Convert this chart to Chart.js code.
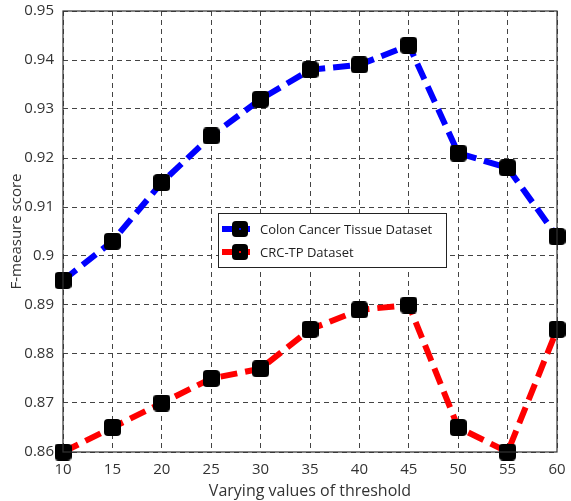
<!DOCTYPE html>
<html>
<head>
<meta charset="utf-8">
<script src="https://cdn.jsdelivr.net/npm/chart.js@4"></script>
<style>
  html, body { margin: 0; padding: 0; background: #fff; }
  #wrap { width: 571px; height: 501px; position: relative; }
</style>
</head>
<body>
<div id="wrap"><canvas id="chart" width="571" height="501"></canvas></div>
<script>
// thresholds on the x axis
const thresholds = [10, 15, 20, 25, 30, 35, 40, 45, 50, 55, 60];
// F-measure per dataset
const colonScores = [0.895, 0.903, 0.915, 0.9245, 0.932, 0.938, 0.939, 0.943, 0.921, 0.918, 0.904];
const crcScores = [0.860, 0.865, 0.870, 0.875, 0.877, 0.885, 0.889, 0.890, 0.865, 0.860, 0.885];
const seriesNames = ['Colon Cancer Tissue Dataset', 'CRC-TP Dataset'];
const seriesColors = ['#0000ff', '#ff0000'];

const FONT = '"Open Sans", "Liberation Sans", sans-serif';

// black rounded square marker
function makeMarker() {
    const c = document.createElement('canvas');
    c.width = 17;
    c.height = 17;
    const g = c.getContext('2d');
    g.fillStyle = '#000';
    g.beginPath();
    g.roundRect(0, 0, 17, 17, 4);
    g.fill();
    return c;
}
const marker = makeMarker();

function toPoints(vals) {
    return thresholds.map((t, i) => ({ x: t, y: vals[i] }));
}

function lineSet(label, vals, color) {
    return {
        label,
        data: toPoints(vals),
        borderColor: color,
        borderWidth: 6,
        borderDash: [17, 8],
        pointStyle: marker,
        pointRadius: 8,
        tension: 0,
        clip: false,
    };
}

// tiny coloured dot in the middle of each marker
function dotSet(vals, color) {
    return {
        label: '',
        data: toPoints(vals),
        showLine: false,
        pointStyle: 'circle',
        pointRadius: 1,
        pointBackgroundColor: color,
        pointBorderWidth: 0,
        clip: false,
    };
}

// box round the plot + legend inside the plot
const framePlugin = {
    id: 'frame',
    afterDraw(chart) {
        const { ctx, chartArea: a } = chart;
        ctx.save();
        ctx.strokeStyle = '#333';
        ctx.lineWidth = 1.2;
        ctx.setLineDash([]);
        ctx.strokeRect(a.left, a.top, a.right - a.left, a.bottom - a.top);

        // legend
        const lx = 218, ly = 213, lw = 228, lh = 54;
        ctx.fillStyle = '#fff';
        ctx.fillRect(lx, ly, lw, lh);
        ctx.strokeStyle = '#222';
        ctx.lineWidth = 1;
        ctx.strokeRect(lx + 0.5, ly + 0.5, lw, lh);
        seriesNames.forEach((name, i) => {
            const y = ly + 16 + i * 23;
            ctx.strokeStyle = seriesColors[i];
            ctx.lineWidth = 6;
            ctx.beginPath();
            ctx.moveTo(lx + 4, y);
            ctx.lineTo(lx + 32, y);
            ctx.stroke();
            ctx.drawImage(marker, lx + 14, y - 8, 16, 16);
            ctx.fillStyle = seriesColors[i];
            ctx.fillRect(lx + 21, y - 1, 2, 2);
            ctx.fillStyle = '#222';
            ctx.font = '13px ' + FONT;
            ctx.textBaseline = 'middle';
            ctx.fillText(name, lx + 42, y + 1);
        });
        ctx.restore();
    }
};

new Chart(document.getElementById('chart'), {
    type: 'line',
    data: {
        datasets: [
            lineSet(seriesNames[0], colonScores, seriesColors[0]),
            lineSet(seriesNames[1], crcScores, seriesColors[1]),
            dotSet(colonScores, seriesColors[0]),
            dotSet(crcScores, seriesColors[1]),
        ]
    },
    options: {
        responsive: false,
        animation: false,
        layout: { autoPadding: false, padding: { top: 11, right: 14, left: 8, bottom: 0 } },
        plugins: {
            legend: { display: false },
            tooltip: { enabled: false },
        },
        scales: {
            x: {
                type: 'linear',
                min: 10,
                max: 60,
                afterFit: (s) => {
                    s.height = 49;
                    s.paddingLeft = 0;
                    s.paddingRight = 0;
                },
                ticks: {
                    stepSize: 5,
                    color: '#333',
                    font: { family: FONT, size: 15 },
                    padding: 9,
                },
                grid: {
                    color: '#444',
                    drawTicks: false,
                },
                border: { display: false, dash: [5, 4] },
                title: {
                    display: true,
                    text: 'Varying values of threshold',
                    color: '#333',
                    font: { family: FONT, size: 16 },
                    padding: { top: 0, bottom: 0 },
                },
            },
            y: {
                min: 0.86,
                max: 0.95,
                afterFit: (s) => {
                    s.width = 55;
                    s.paddingTop = 0;
                    s.paddingBottom = 0;
                },
                ticks: {
                    stepSize: 0.01,
                    color: '#333',
                    font: { family: FONT, size: 15 },
                    padding: 9,
                    callback: (v) => String(Number(v.toFixed(2))),
                },
                grid: {
                    color: '#444',
                    drawTicks: false,
                },
                border: { display: false, dash: [5, 4] },
                title: {
                    display: true,
                    text: 'F-measure score',
                    color: '#333',
                    font: { family: FONT, size: 15 },
                    padding: { top: 0, bottom: -14 },
                },
            }
        }
    },
    plugins: [framePlugin]
});
</script>
</body>
</html>
